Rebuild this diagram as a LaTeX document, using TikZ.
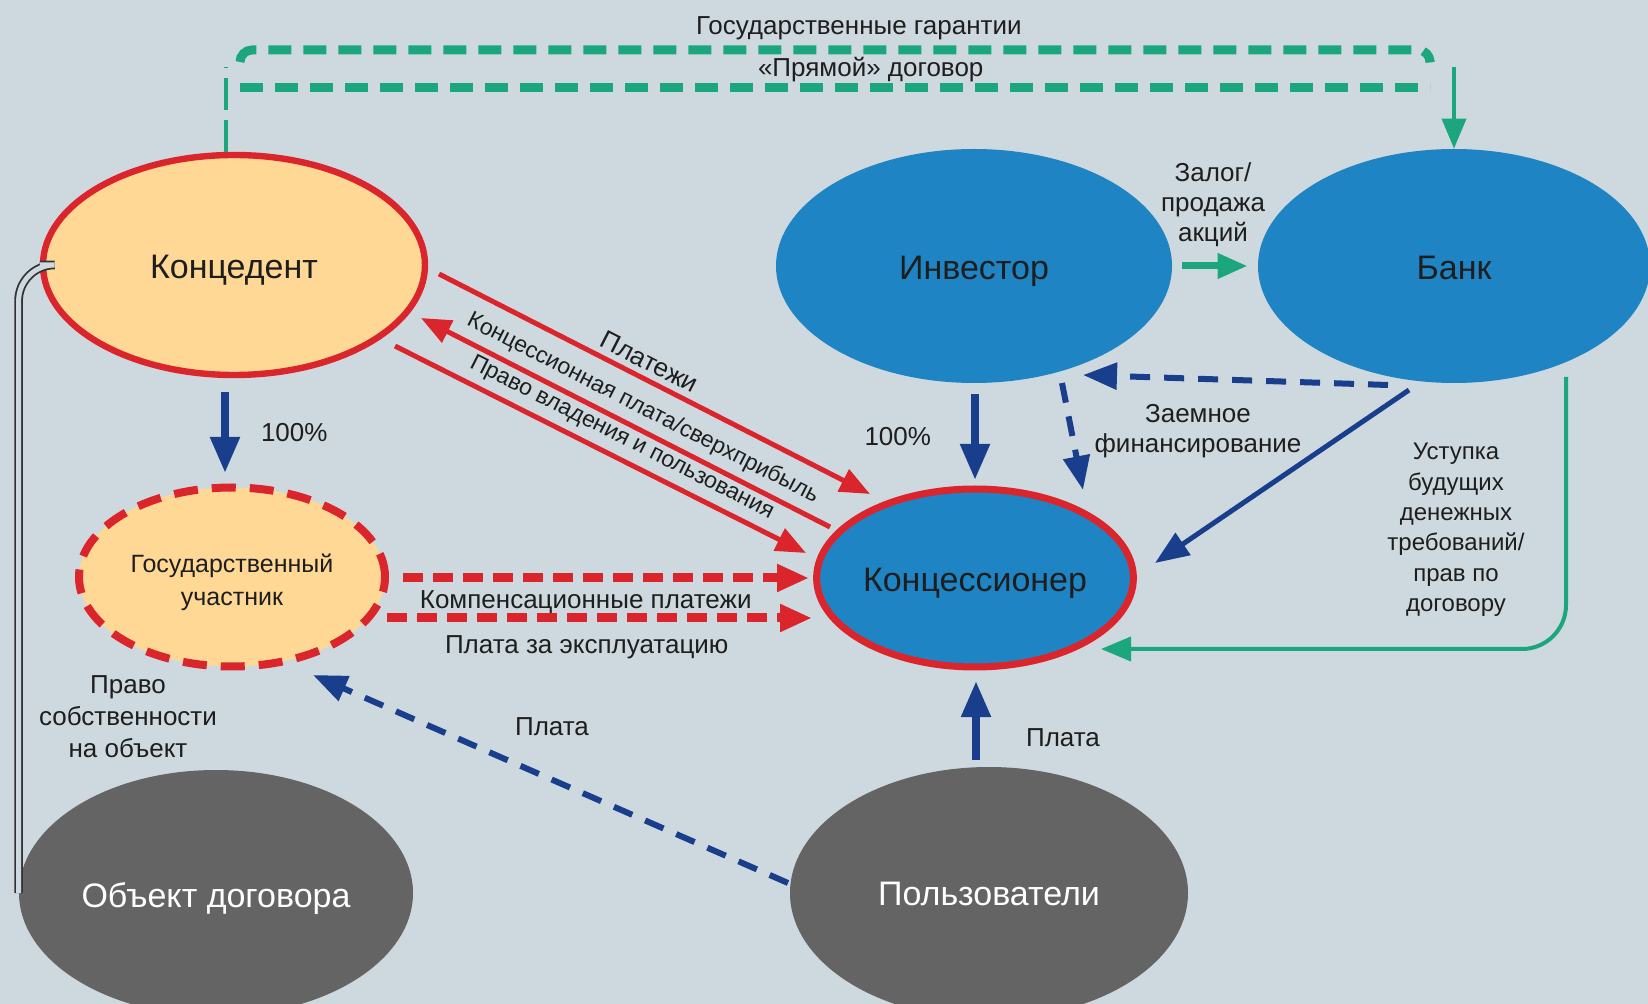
\documentclass[tikz,border=0pt]{standalone}
\usepackage{fontspec}
\setmainfont{Liberation Sans}
\usetikzlibrary{shapes.geometric,arrows.meta,calc}

\definecolor{bg}{RGB}{206,217,223}
\definecolor{peach}{RGB}{255,216,150}
\definecolor{rd}{RGB}{218,37,45}
\definecolor{bl}{RGB}{30,132,196}
\definecolor{navy}{RGB}{24,62,140}
\definecolor{grn}{RGB}{27,166,125}
\definecolor{gry}{RGB}{100,100,100}
\definecolor{ink}{RGB}{30,30,30}

\tikzset{
  bubble/.style={ellipse, inner sep=0pt, align=center, text=ink,
    text height=14pt, text depth=0pt, font=\fontsize{17}{20}\selectfont},
  lbl/.style={text=ink, inner sep=1pt, align=center,
    font=\fontsize{13}{15}\selectfont},
  slbl/.style={text=ink, inner sep=1pt, sloped,
    font=\fontsize{11.5}{13}\selectfont},
  gthick/.style={draw=grn, line width=4.5pt, dash pattern=on 11.5pt off 6pt},
  gthin/.style={draw=grn, line width=1.6pt, dash pattern=on 16pt off 5pt},
  gline/.style={draw=grn, line width=2pt},
  gtip/.style={-{Triangle[length=15pt,width=12pt]}},
  redline/.style={draw=rd, line width=2.5pt},
  redtip/.style={-{Triangle[length=15pt,width=12pt]}},
  redback/.style={{Triangle[length=15pt,width=12pt]}-},
  reddash/.style={draw=rd, line width=4.5pt, dash pattern=on 10pt off 5pt,
    -{Triangle[length=16pt,width=13pt]}},
  navyfat/.style={draw=navy, line width=4pt, -{Triangle[length=18pt,width=14pt]}},
  navyline/.style={draw=navy, line width=2.5pt},
  navydash/.style={draw=navy, line width=3pt, dash pattern=on 10pt off 7pt},
  navytip/.style={-{Triangle[length=17pt,width=13pt]}},
  dblline/.style={draw=black!80, line width=0.9pt, double=bg, double distance=2.5pt}
}

\begin{document}
\begin{tikzpicture}[x=0.5pt,y=-0.5pt]

\fill[bg] (0,0) rectangle (1648,1004);
\useasboundingbox (0,0) rectangle (1648,1004);

\node[bubble, draw=rd, line width=3.2pt, fill=peach,
  minimum width=191pt, minimum height=110pt] (Kon) at (234,265) {Концедент};
\node[bubble, fill=bl, minimum width=198pt, minimum height=117pt] (Inv) at (974,266) {Инвестор};
\node[bubble, fill=bl, minimum width=196pt, minimum height=117pt] (Bank) at (1454,266) {Банк};
\node[bubble, draw=rd, line width=3.5pt, fill=bl,
  minimum width=154.5pt, minimum height=89pt] (Konc) at (975,578) {Концессионер};
\node[bubble, draw=rd, line width=4pt, dash pattern=on 12pt off 7pt, fill=peach,
  minimum width=153pt, minimum height=89.5pt,
  label={[text=ink, align=center, yshift=-2.6pt, font=\fontsize{12.5}{16.5}\selectfont]center:Государственный\\участник}]
  (Gos) at (232,577) {};
\node[bubble, fill=gry, text=white, minimum width=197pt, minimum height=123pt] (Obj) at (216,893) {Объект договора};
\node[bubble, fill=gry, text=white, text height=12pt,
  minimum width=199pt, minimum height=126pt] (Pol) at (989,893) {Пользователи};

\draw[gthin] ($(Kon)+(-8,-113)$) to ($(Kon)+(-8,-198)$);
\draw[gthick, rounded corners=6] ($(Kon)+(6,-203)$)
  to ($(Kon)+(6,-215)$)
  to node[lbl, pos=.52, above=2pt] (lGar) {Государственные гарантии} ($(Bank)+(-24,-216)$)
  to ($(Bank)+(-24,-206)$);
\draw[gthick] ($(Kon)+(6,-177)$)
  to node[lbl, pos=.53, above=0pt] (lPr) {«Прямой» договор} ($(Bank)+(-24,-178)$);
\draw[gline, gtip] ($(Bank)+(0,-199)$) to (Bank.north);

\draw[navyfat] ($(Kon)+(-9,127)$) to node[lbl, right=15pt] (lKa) {100\%} ($(Gos)+(-7,-104)$);
\draw[navyfat] ($(Inv)+(1,128)$) to node[lbl, left=19pt] (lKb) {100\%} ($(Konc)+(0,-98)$);

\draw[navydash, navytip] ($(Bank)+(-66,119)$) to ($(Inv)+(109,109)$);
\draw[navydash, navytip] ($(Inv)+(88,117)$) to ($(Konc)+(108,-88)$);
\draw[navyline, navytip] ($(Bank)+(-45,124)$) to ($(Konc)+(180,-15)$);
\node[lbl] (lZaem) at (1198,431) {Заемное\\финансирование};

\draw[grn, line width=3.5pt, gtip] ($(Inv.east)+(10,0)$) to ($(Bank.west)+(-10,0)$);
\node[lbl] (lZal) at (1213,205) {Залог/\\продажа\\акций};

\draw[gline, gtip, rounded corners=22] ($(Bank)+(112,111)$) |- ($(Konc)+(126,71)$);
\node[lbl, font=\fontsize{12}{15.2}\selectfont] (lUst) at (1456,530)
  {Уступка\\будущих\\денежных\\требований/\\прав по\\договору};

\draw[redline, redtip] ($(Kon)+(205,9)$)
  to node[slbl, pos=.47, above=2pt, font=\fontsize{13}{15}\selectfont] (lPl) {Платежи} ($(Konc)+(-105,-84)$);
\draw[redline, redback] ($(Kon)+(187,53)$)
  to node[slbl, pos=.52, above=2.5pt] (lKp)
  {Концессионная плата/сверхприбыль} ($(Konc)+(-145,-51)$);
\draw[redline, redtip] ($(Kon)+(161,81)$)
  to node[slbl, pos=.53, above=2.5pt] (lPv) {Право владения и пользования} ($(Konc)+(-169,-25)$);

\draw[reddash] ($(Gos)+(171,1)$)
  to node[lbl, pos=.45, below=3pt] (lKomp) {Компенсационные платежи} ($(Konc)+(-166,0)$);
\draw[reddash] ($(Gos)+(155,41)$)
  to node[lbl, pos=.47, below=5.5pt] (lEks) {Плата за эксплуатацию} ($(Konc)+(-163,40)$);

\draw[navydash, navytip] ($(Pol)+(-201,-10)$) to ($(Gos)+(81,98)$);
\node[lbl] (lPa) at (552,727) {Плата};
\draw[navyfat] ($(Pol)+(-13,-133)$) to ($(Konc)+(1,103)$);
\node[lbl] (lPb) at (1063,738) {Плата};

\draw[dblline, rounded corners=18] (Kon.west) -| (Obj.west);
\node[lbl, font=\fontsize{13}{16}\selectfont] (lSob) at (128,717) {Право\\собственности\\на объект};

\end{tikzpicture}
\end{document}
